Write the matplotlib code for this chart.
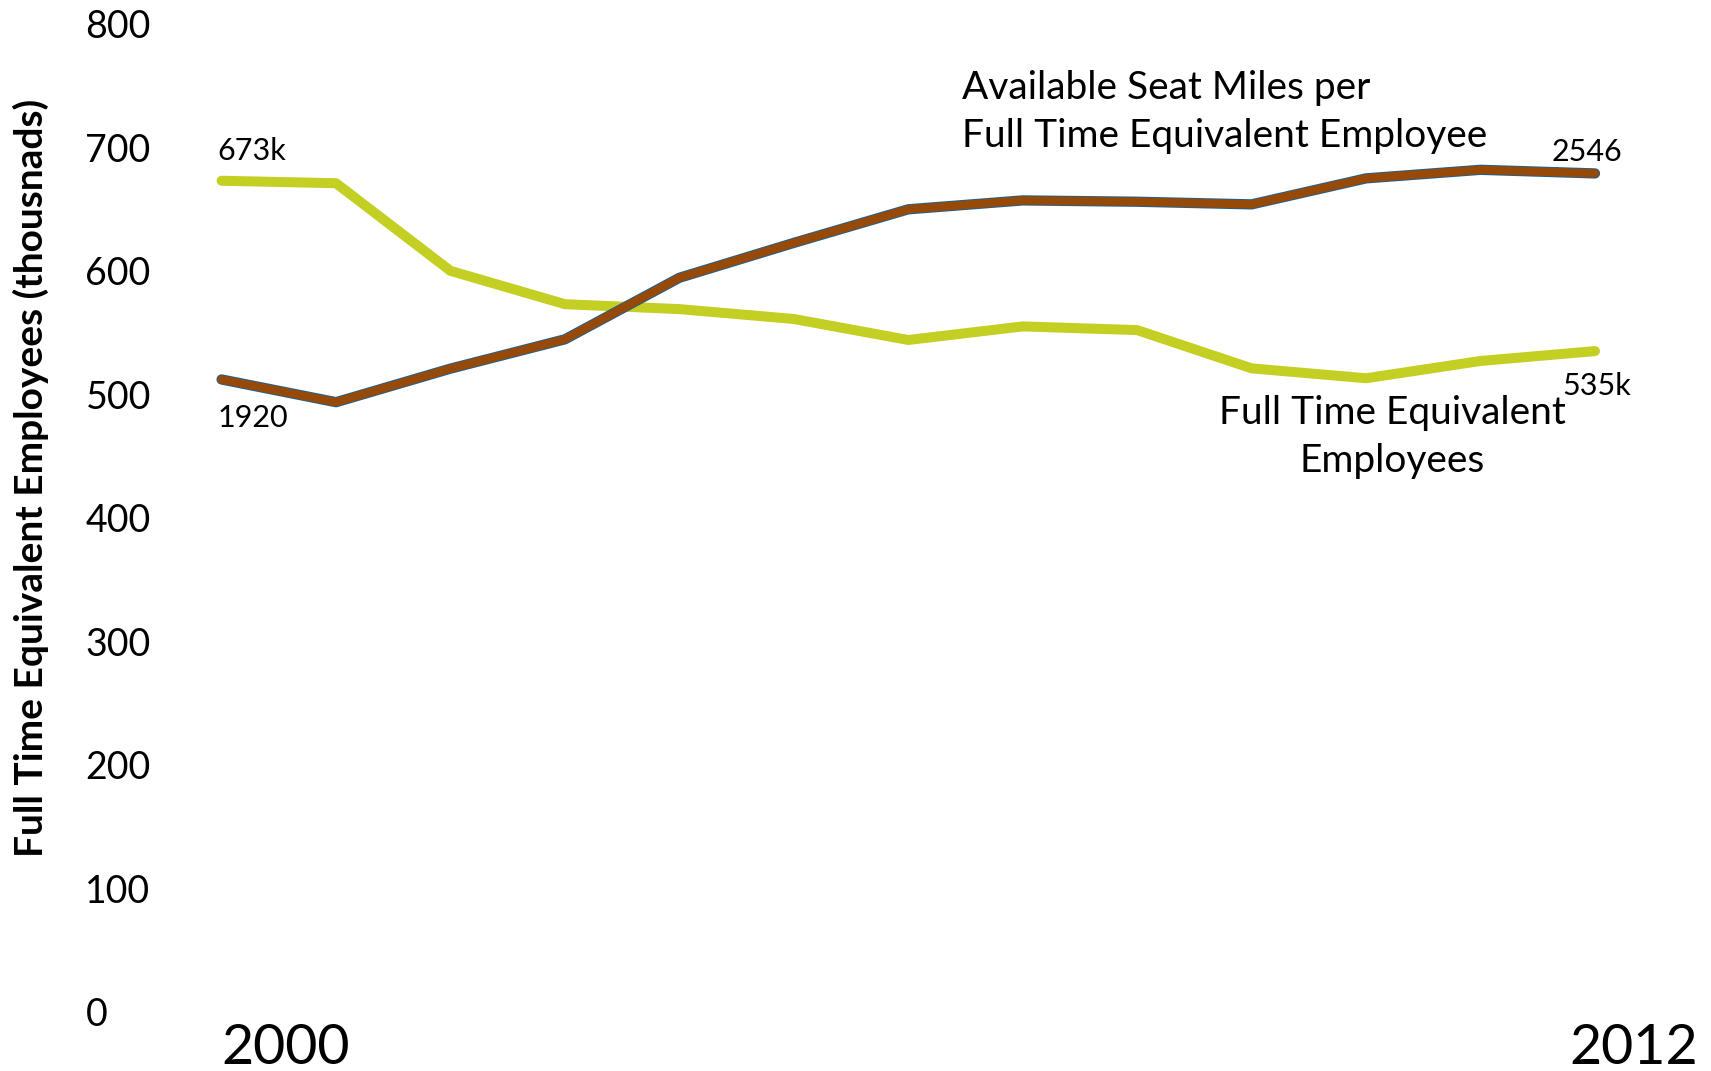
import matplotlib
matplotlib.use("Agg")
from matplotlib import pyplot as plt
from matplotlib import transforms

years = list(range(2000, 2013))
# full time equivalent employees, thousands
fte = [673, 671, 600, 573, 569, 561, 544, 555, 552, 521, 513, 527, 535]
# available seat miles per FTE employee, thousands
asm_per_fte = [1920, 1851, 1953, 2042, 2229, 2335, 2437, 2464, 2460, 2452, 2531, 2557, 2546]
yticks = [0, 100, 200, 300, 400, 500, 600, 700, 800]

plt.rcParams['font.family'] = ['Lato', 'DejaVu Sans']

fig = plt.figure(figsize=(17.11, 10.71), dpi=100)
ax = fig.add_axes([0.1295, 0.0556, 0.8027, 0.922])
ax2 = ax.twinx()

ax.plot(years, fte, color='#c3cf22', lw=7.2, solid_capstyle='round',
        solid_joinstyle='round', clip_on=False, zorder=3)
# brown line with a thin blue edge
ax2.plot(years, asm_per_fte, color='#1f5f8f', lw=7.4, solid_capstyle='round',
         clip_on=False, zorder=3)
ax2.plot(years, asm_per_fte, color='#974a08', lw=6.0, solid_capstyle='round',
         clip_on=False, zorder=4)

ax.set_xlim(2000, 2012)
ax.set_ylim(0, 800)
ax2.set_ylim(0, 3000)
ax.set_yticks(yticks)
ax.set_xticks([])
ax2.set_yticks([])
for a in (ax, ax2):
    for s in a.spines.values():
        s.set_visible(False)
ax.tick_params(axis='y', length=0, pad=98, labelsize=27)
for lab in ax.get_yticklabels():
    lab.set_horizontalalignment('left')

ax.set_ylabel('Full Time Equivalent Employees (thousnads)', fontsize=28,
              fontweight='bold')
ax.yaxis.set_label_coords(-0.126, 0.54)

# year labels under the first and last point
bt = transforms.blended_transform_factory(ax.transData, fig.transFigure)
ax.text(years[0], 0.021, str(years[0]), transform=bt, fontsize=40,
        ha='left', va='center')
t_end = ax.text(years[-1], 0.021, str(years[-1]), fontsize=40, ha='left', va='center')
t_end.set_transform(bt + transforms.ScaledTranslation(-0.26, 0, fig.dpi_scale_trans))

# end point values
ax.annotate(f'{fte[0]}k', (years[0], fte[0]), xytext=(-3, 11), textcoords='offset points',
            fontsize=22, ha='left', va='bottom')
ax.annotate(f'{fte[-1]}k', (years[-1], fte[-1]), xytext=(1, -15), textcoords='offset points',
            fontsize=22, ha='center', va='top')
ax2.annotate(f'{asm_per_fte[0]}', (years[0], asm_per_fte[0]), xytext=(-3, -18),
             textcoords='offset points', fontsize=22, ha='left', va='top')
ax2.annotate(f'{asm_per_fte[-1]}', (years[-1], asm_per_fte[-1]), xytext=(-6, 5),
             textcoords='offset points', fontsize=22, ha='center', va='bottom')

# series names
fig.text(962 / 1711, 1 - 112 / 1071, 'Available Seat Miles per\nFull Time Equivalent Employee',
         fontsize=28, ha='left', va='center', linespacing=1.4)
ax.text(2010.23, 1 - 437 / 1071, 'Full Time Equivalent\nEmployees',
        transform=bt, fontsize=28, ha='center', va='center', linespacing=1.4)

fig.savefig('out.png', dpi=100)
